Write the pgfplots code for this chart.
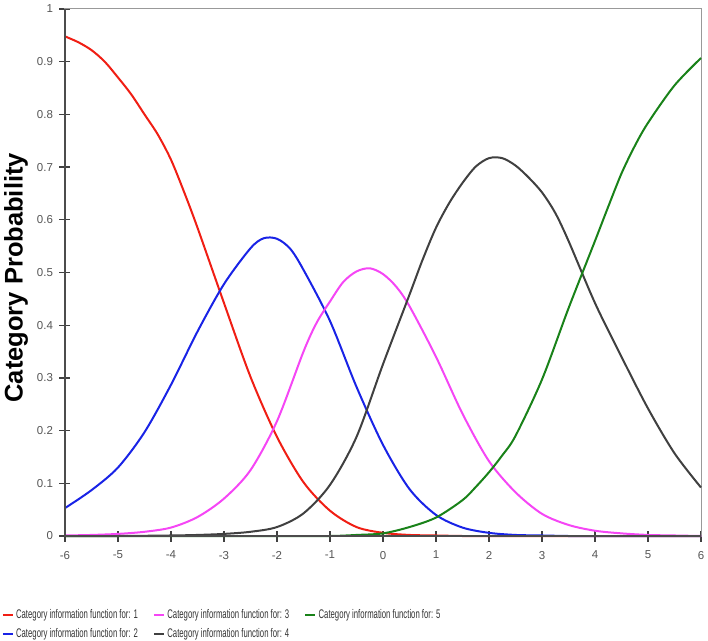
\documentclass[border=0pt]{standalone}
\usepackage{pgfplots}
\pgfplotsset{compat=1.18}
\usepackage{pgfplotstable}
\usepackage{fontspec}
\setmainfont{Liberation Sans}
\newfontfamily\legfont[FakeStretch=0.62]{Liberation Sans}
\definecolor{cRed}{RGB}{240,30,20}
\definecolor{cBlue}{RGB}{25,35,230}
\definecolor{cMag}{RGB}{245,70,245}
\definecolor{cGray}{RGB}{64,64,64}
\definecolor{cGreen}{RGB}{25,130,25}
\definecolor{tickgray}{RGB}{85,85,85}

\pgfplotstableread{
x y
-6 0.948
-5.75 0.937
-5.5 0.922
-5.25 0.900
-5 0.870
-4.75 0.838
-4.5 0.800
-4.25 0.762
-4 0.714
-3.75 0.652
-3.5 0.585
-3 0.442
-2.5 0.302
-2 0.188
-1.5 0.102
-1 0.048
-0.5 0.017
0 0.006
0.5 0.002
1 0.001
1.5 0
2 0
3 0
4 0
5 0
6 0
}\catone

\pgfplotstableread{
x y
-6 0.053
-5.5 0.087
-5 0.130
-4.5 0.197
-4 0.287
-3.5 0.388
-3 0.478
-2.5 0.546
-2.25 0.565
-2 0.564
-1.75 0.545
-1.5 0.505
-1 0.408
-0.5 0.283
0 0.173
0.5 0.089
1 0.040
1.5 0.016
2 0.006
2.5 0.002
3 0.001
3.5 0
4 0
5 0
6 0
}\cattwo

\pgfplotstableread{
x y
-6 0.001
-5.5 0.002
-5 0.004
-4.5 0.008
-4 0.016
-3.5 0.036
-3 0.071
-2.5 0.125
-2 0.218
-1.5 0.350
-1.25 0.405
-1 0.445
-0.75 0.482
-0.5 0.502
-0.25 0.508
0 0.497
0.25 0.473
0.5 0.436
1 0.340
1.5 0.232
2 0.142
2.5 0.083
3 0.042
3.5 0.021
4 0.010
4.5 0.005
5 0.002
5.5 0.001
6 0
}\catthree

\pgfplotstableread{
x y
-6 0
-5 0
-4 0.001
-3.5 0.002
-3 0.004
-2.5 0.008
-2 0.017
-1.5 0.043
-1 0.097
-0.5 0.188
0 0.326
0.5 0.458
0.75 0.525
1 0.585
1.25 0.632
1.5 0.670
1.75 0.701
2 0.717
2.25 0.717
2.5 0.703
2.75 0.680
3 0.652
3.25 0.613
3.5 0.560
4 0.442
4.5 0.340
5 0.242
5.5 0.157
6 0.092
}\catfour

\pgfplotstableread{
x y
-6 0
-4 0
-2 0
-1 0
-0.5 0.002
0 0.005
0.5 0.017
1 0.035
1.5 0.068
1.75 0.093
2 0.121
2.25 0.153
2.5 0.190
3 0.297
3.5 0.432
4 0.560
4.25 0.625
4.5 0.688
4.75 0.740
5 0.784
5.5 0.855
6 0.907
}\catfive

\begin{document}
\begin{tikzpicture}
\useasboundingbox (-65pt,-104pt) rectangle (643pt,536pt);
\begin{axis}[
  at={(0pt,0pt)}, anchor=south west,
  scale only axis, width=636pt, height=527pt,
  xmin=-6, xmax=6, ymin=0, ymax=1,
  xtick={-6,-5,...,6},
  ytick={0,0.1,0.2,0.3,0.4,0.5,0.6,0.7,0.8,0.9,1},
  tick pos=left, tick align=center,
  major tick length=11pt,
  major tick style={draw=black!75, line width=1.2pt},
  axis line style={draw=black!40, line width=1pt},
  /pgf/number format/assume math mode=true,
  tick label style={font=\fontsize{11.5}{13}\selectfont, text=tickgray},
  yticklabel style={xshift=-3pt},
  xticklabel style={yshift=-6pt},
  ylabel={Category Probability},
  ylabel style={at={(axis description cs:-0.077,0.49)}, anchor=center, font=\fontsize{25.5}{30}\selectfont\bfseries},
  clip=false,
  legend style={at={(axis description cs:-0.1,-0.136)}, anchor=north west, draw=none, fill=none,
    inner sep=0pt, font=\legfont\fontsize{12.5}{14}\selectfont, text=black!80,
    /tikz/every even column/.append style={column sep=13pt}, row sep=4.5pt,
    cells={anchor=west}},
  legend columns=3,
  legend image code/.code={\draw[#1, line width=2.5pt] (0pt,0pt) -- (10pt,0pt);},
  every axis plot/.append style={line width=2pt, smooth},
]
\addplot[cRed, forget plot] table {\catone};
\addplot[cBlue, forget plot] table {\cattwo};
\addplot[cMag, forget plot] table {\catthree};
\addplot[cGray, forget plot] table {\catfour};
\addplot[cGreen, forget plot] table {\catfive};
\draw[black!70, line width=1.3pt] (rel axis cs:0,1) -- (rel axis cs:0,0) -- (rel axis cs:1,0);
\addlegendimage{cRed}
\addlegendentry{Category information function for: 1}
\addlegendimage{cMag}
\addlegendentry{Category information function for: 3}
\addlegendimage{cGreen}
\addlegendentry{Category information function for: 5}
\addlegendimage{cBlue}
\addlegendentry{Category information function for: 2}
\addlegendimage{cGray}
\addlegendentry{Category information function for: 4}
\end{axis}
\end{tikzpicture}
\end{document}
